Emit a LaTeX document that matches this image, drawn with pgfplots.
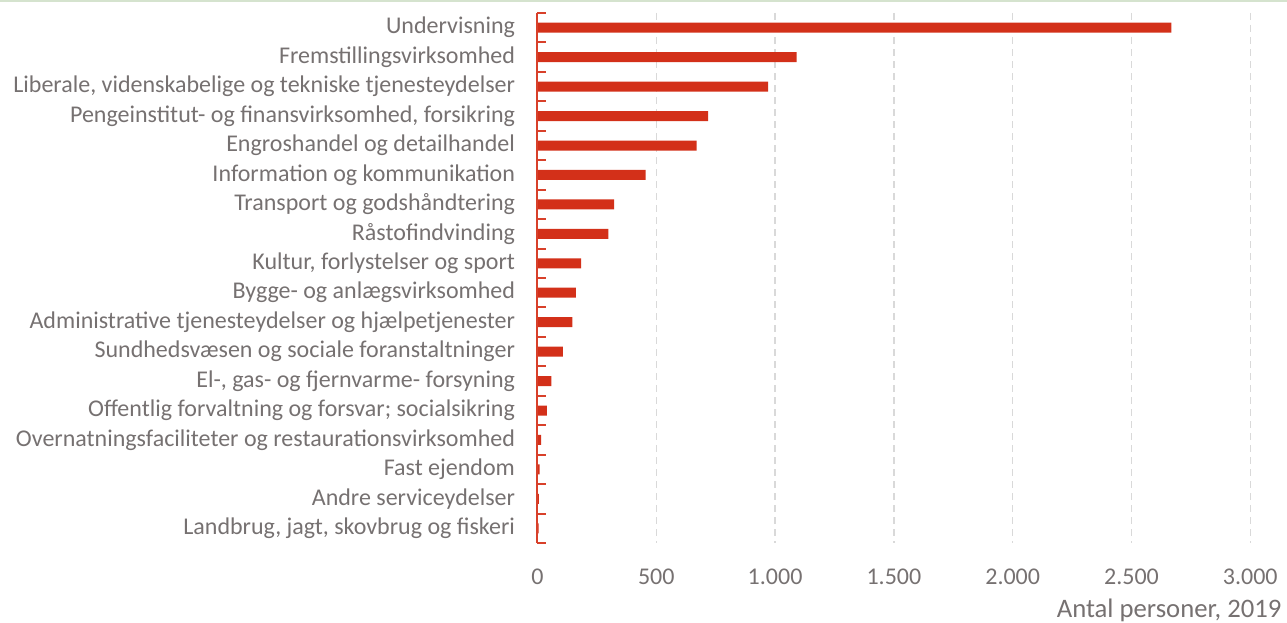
\documentclass[border=0pt]{standalone}
\usepackage{fontspec}
\setmainfont{Carlito}
\usepackage{pgfplots}
\pgfplotsset{compat=1.18}
\definecolor{barred}{HTML}{D33019}
\definecolor{axred}{HTML}{D8402A}
\definecolor{txtgrey}{HTML}{767171}
\definecolor{gridgrey}{HTML}{D9D9D9}
\definecolor{topgreen}{HTML}{D5E3CE}

\begin{document}
\begin{tikzpicture}
  \useasboundingbox (-537.5pt,-80pt) rectangle (749.5pt,543pt);
  \draw[topgreen, line width=2pt] (-537.5pt,542pt) -- (749.5pt,542pt);
  \begin{axis}[
    at={(0pt,0pt)}, anchor=south west,
    scale only axis,
    width=712.8pt, height=530pt,
    clip=false,
    xmin=0, xmax=3000,
    ymin=-0.5, ymax=17.5,
    y dir=reverse,
    axis y line*=left,
    axis x line*=bottom,
    axis line style={draw=none},
    tick style={draw=none},
    xtick={500,1000,...,3000},
    extra x ticks={0},
    extra x tick style={grid=none},
    ytick={0,...,17},
    major tick length=0pt,
    xmajorgrids,
    major x grid style={draw=gridgrey, line width=1.5pt, dash pattern=on 7pt off 5pt},
    yticklabels={Undervisning,
      Fremstillingsvirksomhed,
      {Liberale, videnskabelige og tekniske tjenesteydelser},
      {Pengeinstitut- og finansvirksomhed, forsikring},
      Engroshandel og detailhandel,
      Information og kommunikation,
      Transport og godshåndtering,
      Råstofindvinding,
      {Kultur, forlystelser og sport},
      Bygge- og anlægsvirksomhed,
      Administrative tjenesteydelser og hjælpetjenester,
      Sundhedsvæsen og sociale foranstaltninger,
      {El-, gas- og fjernvarme- forsyning},
      Offentlig forvaltning og forsvar; socialsikring,
      Overnatningsfaciliteter og restaurationsvirksomhed,
      Fast ejendom,
      Andre serviceydelser,
      {Landbrug, jagt, skovbrug og fiskeri}},
    ticklabel style={font=\fontsize{24}{28}\selectfont, text=txtgrey},
    yticklabel style={anchor=east, xshift=-19pt},
    xticklabel style={anchor=base, yshift=-41pt},
    /pgf/number format/.cd, 1000 sep={.}, assume math mode=true,
    /pgfplots/.cd,
    xlabel={Antal personer, 2019},
    xlabel style={at={(axis description cs:1,0)}, anchor=base east,
      xshift=34.7pt, yshift=-74pt, font=\fontsize{26.7}{30}\selectfont, text=txtgrey},
  ]
    \addplot[xbar, bar width=10pt, fill=barred, draw=none] coordinates {
      (2668,0) (1091,1) (971,2) (718,3) (670,4) (455,5)
      (323,6) (298,7) (184,8) (162,9) (147,10) (107,11)
      (58,12) (39,13) (15,14) (9,15) (6,16) (5,17)
    };
    % category axis line and boundary ticks
    \addplot[axred, line width=2pt, no marks] coordinates {(0,-0.5) (0,17.5)};
    \addplot[xcomb, axred, line width=2pt, no marks] coordinates {
      (34,-0.5) (34,0.5) (34,1.5) (34,2.5) (34,3.5) (34,4.5) (34,5.5)
      (34,6.5) (34,7.5) (34,8.5) (34,9.5) (34,10.5) (34,11.5) (34,12.5)
      (34,13.5) (34,14.5) (34,15.5) (34,16.5) (34,17.5)
    };
  \end{axis}
\end{tikzpicture}
\end{document}
